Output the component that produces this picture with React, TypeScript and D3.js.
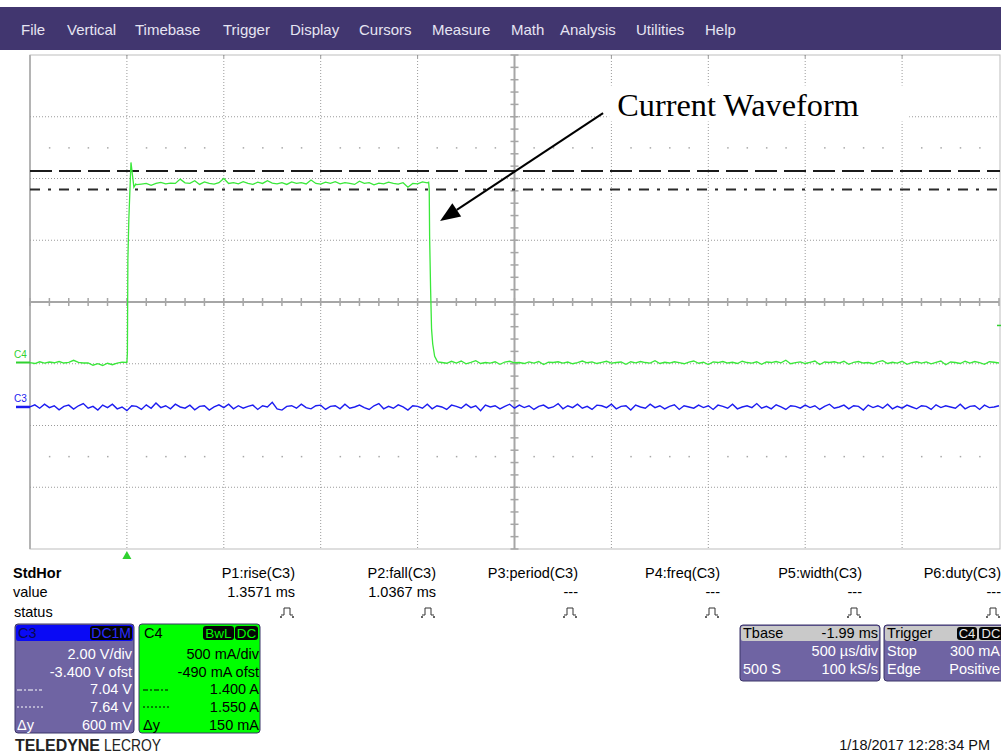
import * as d3 from "d3";
import React from "react";

// ---- screen / menu ----
const menuItems = ["File", "Vertical", "Timebase", "Trigger", "Display", "Cursors", "Measure", "Math", "Analysis", "Utilities", "Help"];
const menuX = [21, 67, 135, 223, 290, 359, 432, 511, 560, 636, 705];

// ---- timebase: 500 us/div, trigger at t = 0 ms ----
const timeDomain = [-0.5, 4.5]; // ms
const sampleStep = 0.025; // ms between plotted samples

// ---- C4: current probe, 500 mA/div, -490 mA offset (values in mA) ----
const c4Scale = { perDiv: 500, offset: -490 };
const c4PreStart = -0.5;
const c4Pre = [0, -8, 6, -5, 4, -2, 8, -4, 2, 18, 2, -4, -3, -22, -10, -24, -6, -18, -5, 3];
const c4Rise: [number, number][] = [[0.0, 0], [0.0026, 80], [0.005, 830], [0.01, 1160], [0.021, 1620], [0.036, 1420], [0.046, 1445]];
const c4HighStart = 0.05;
const c4High = [
  1440, 1445, 1450, 1435, 1450, 1458, 1446, 1452, 1450, 1485, 1455, 1450, 1472, 1442, 1462, 1450, 1444, 1456, 1490, 1450,
  1456, 1446, 1464, 1450, 1442, 1460, 1450, 1472, 1452, 1446, 1456, 1442, 1462, 1450, 1456, 1446, 1478, 1450, 1444, 1460,
  1450, 1464, 1446, 1456, 1450, 1442, 1468, 1450, 1456, 1438, 1452, 1446, 1460, 1450, 1444, 1456, 1420, 1450, 1446, 1462, 1455,
];
const c4Fall: [number, number][] = [[1.557, 1460], [1.56, 1400], [1.562, 1020], [1.567, 600], [1.572, 270], [1.578, 150], [1.588, 50], [1.603, 5]];
const c4PostStart = 1.625;
const c4Post = [
  0, -6, 10, -4, 12, -10, 2, 15, -8, 0, -5, 6, -14, 4, 10, -2, 0, -8, 5, -4,
  8, -16, 2, 0, 6, -5, 4, -10, 0, 12, -2, 5, -8, 2, 10, -5, 0, 4, -14, 6,
  -2, 8, 0, -5, 15, -8, 2, -4, 6, 0, -10, 4, 12, -6, 2, -16, 5, 0, 8, -4,
  2, -8, 10, 0, -5, 6, -14, 4, 0, 8, -2, 18, -10, 0, 5, -8, 2, 12, -16, 4,
  0, 6, -5, 10, -14, 2, 8, -4, 0, -10, 5, 15, -8, 2, -5, 10, -14, 0, 6, -4,
  5, -10, 2, 12, -18, 4, 0, -8, 10, -5, 8, 0, -14, 6, 2, -4,
];

// ---- C3: voltage, 2.00 V/div, -3.400 V offset (values in mV) ----
const c3Scale = { perDiv: 2000, offset: -3400 };
const c3Start = -0.5;
const c3Values = [
  0, 70, -40, 90, -20, 40, -90, 20, 60, -70, 40, 110, -40, 20, -100, 60, -20, 90, -60, 0,
  -120, 40, 20, -80, 70, -40, 130, -20, 40, -60, 90, 0, -40, 60, -90, 20, 40, -100, 0, 70,
  -20, 90, -60, 40, -40, 20, 60, -80, 40, 0, 150, -60, -100, 20, 40, -40, 90, -20, -60, 40,
  60, -80, 20, 40, -60, 90, -40, 0, 60, -20, -80, 40, 110, -60, 20, -40, 70, 0, -100, 40,
  20, -40, 90, -60, 40, 0, -80, 60, 20, -40, 90, -20, 40, -120, 60, 0, 40, -60, 20, 90,
  -40, 60, -20, 40, -80, 20, 60, -40, 0, 110, -60, 40, -20, 90, -40, 20, -80, 60, 40, -20,
  90, -60, 20, 40, -100, 60, 0, -40, 90, -20, 40, -60, 20, 70, -80, 40, 0, -40, 60, -20,
  40, -80, 60, 20, -40, 90, -60, 0, 40, -20, 110, -40, 20, -60, 70, 0, -80, 40, 20, -40,
  60, -20, 40, -80, 20, 90, -40, 0, 60, -60, 40, 20, -100, 60, -20, 40, -40, 90, -60, 20,
  -40, 60, 0, -60, 40, 20, -80, 70, -20, 40, 0, -40, 90, -60, 20, 40, -80, 60, -20, 0,
  40,
];

// ---- cursors (C4, mA) and trigger ----
const cursorDashed = 1550;
const cursorDashDot = 1400;
const triggerLevel = 300; // mA on C4
const triggerTime = 0;

// ---- measurements ----
const measHeaders = ["P1:rise(C3)", "P2:fall(C3)", "P3:period(C3)", "P4:freq(C3)", "P5:width(C3)", "P6:duty(C3)"];
const measValues = ["1.3571 ms", "1.0367 ms", "---", "---", "---", "---"];
const measRight = [295, 436, 578, 720, 862, 1001];

const c3Info = ["2.00 V/div", "-3.400 V ofst", "7.04 V", "7.64 V", "600 mV"];
const c4Info = ["500 mA/div", "-490 mA ofst", "1.400 A", "1.550 A", "150 mA"];

// annotation, placed in C4 data units (ms, mA)
const annotation = { label: "Current Waveform", textT: 2.53, textA: 2000, fromT: 2.457, fromA: 2020, toT: 1.616, toA: 1146 };

const grid = { left: 30, right: 999, top: 55, bottom: 549 };
const font = "Liberation Sans, Arial, sans-serif";

const seg = (start: number, vals: number[]): [number, number][] => vals.map((v, i) => [start + i * sampleStep, v]);

const App = () => {
  const x = d3.scaleLinear().domain(timeDomain).range([grid.left, grid.right]);
  const xDiv = d3.scaleLinear().domain([0, 10]).range([grid.left, grid.right]);
  const yDiv = d3.scaleLinear().domain([-4, 4]).range([grid.bottom, grid.top]);
  // channel scales: value -> divisions -> pixels
  const yC4 = (mA: number) => yDiv((mA + c4Scale.offset) / c4Scale.perDiv);
  const yC3 = (mV: number) => yDiv((mV + c3Scale.offset) / c3Scale.perDiv);

  const c4Data: [number, number][] = [...seg(c4PreStart, c4Pre), ...c4Rise, ...seg(c4HighStart, c4High), ...c4Fall, ...seg(c4PostStart, c4Post)];
  const c3Data = seg(c3Start, c3Values);

  const lineC4 = d3.line<[number, number]>().x((d) => x(d[0])).y((d) => yC4(d[1]));
  const lineC3 = d3.line<[number, number]>().x((d) => x(d[0])).y((d) => yC3(d[1]));

  const vDivs = d3.range(1, 10).filter((d) => d !== 5);
  const hDivs = d3.range(-3, 4).filter((d) => d !== 0);
  const minorX = d3.range(0, 10.001, 0.2).filter((d) => Math.abs(d - Math.round(d)) > 0.01);
  const minorY = d3.range(-4, 4.001, 0.2);
  const minorXAll = d3.range(0, 10.001, 0.2);

  // arrow geometry
  const ax1 = x(annotation.fromT), ay1 = yC4(annotation.fromA);
  const ax2 = x(annotation.toT), ay2 = yC4(annotation.toA);
  const len = Math.hypot(ax2 - ax1, ay2 - ay1);
  const ux = (ax2 - ax1) / len, uy = (ay2 - ay1) / len;
  const hl = 20, hw = 8;
  const bx = ax2 - ux * hl, by = ay2 - uy * hl;
  const head = `M${ax2},${ay2} L${bx - uy * hw},${by + ux * hw} L${bx + uy * hw},${by - ux * hw} Z`;
  const tx = x(annotation.textT), ty = yC4(annotation.textA);

  const statusGlyph = (r: number, y: number, key: number) => (
    <g key={key} stroke="#333" strokeWidth={1} fill="none">
      <path d={`M${r - 14},${y} h3 v-7 h6 v7 h3`} />
      <circle cx={r - 14} cy={y + 2} r={0.6} fill="#333" />
      <circle cx={r - 2} cy={y + 2} r={0.6} fill="#333" />
    </g>
  );

  const purple = "#6f64a3";
  const boxStroke = "#3b3468";

  return (
    <div style={{ position: "absolute", left: 0, top: 0 }}>
      <svg width={1001} height={754} style={{ display: "block", background: "#fff" }}>
        {/* menu bar */}
        <rect x={0} y={7} width={1001} height={43} fill="#41366f" />
        {menuItems.map((m, i) => (
          <text key={m} x={menuX[i]} y={35} fontFamily={font} fontSize={15} fill="#e6e4f2">{m}</text>
        ))}

        {/* grid frame */}
        <rect x={grid.left} y={grid.top} width={grid.right - grid.left + 1} height={grid.bottom - grid.top} fill="#fff" stroke="#bdbdbd" strokeWidth={1} />
        <line x1={grid.left} x2={grid.left} y1={grid.top} y2={grid.bottom} stroke="#b4b4b4" strokeWidth={2} />

        {/* dotted division lines */}
        {vDivs.map((d) => (
          <line key={"v" + d} x1={xDiv(d)} x2={xDiv(d)} y1={grid.top} y2={grid.bottom} stroke="#9a9a9a" strokeDasharray="1,2" />
        ))}
        {hDivs.map((d) => (
          <line key={"h" + d} x1={grid.left} x2={grid.right} y1={yDiv(d)} y2={yDiv(d)} stroke="#9a9a9a" strokeDasharray="1,2" />
        ))}
        {[2.5, -2.5].map((r) =>
          minorX.map((d) => <rect key={"m" + r + d} x={xDiv(d) - 0.5} y={yDiv(r) - 0.5} width={1.5} height={1.5} fill="#a8a8a8" />)
        )}
        {/* top edge ticks */}
        {vDivs.map((d) => (
          <line key={"t" + d} x1={xDiv(d)} x2={xDiv(d)} y1={grid.top} y2={grid.top + 3} stroke="#999" />
        ))}

        {/* centre crosshair with minor ticks */}
        <line x1={grid.left} x2={grid.right} y1={yDiv(0)} y2={yDiv(0)} stroke="#a6a6a6" strokeWidth={2} />
        <line x1={xDiv(5)} x2={xDiv(5)} y1={grid.top} y2={grid.bottom} stroke="#a6a6a6" strokeWidth={2} />
        {minorXAll.map((d) => (
          <line key={"cx" + d} x1={xDiv(d)} x2={xDiv(d)} y1={yDiv(0) - 4} y2={yDiv(0) + 4} stroke="#a6a6a6" strokeWidth={1.5} />
        ))}
        {minorY.map((d) => (
          <line key={"cy" + d} x1={xDiv(5) - 4} x2={xDiv(5) + 4} y1={yDiv(d)} y2={yDiv(d)} stroke="#a6a6a6" strokeWidth={1.5} />
        ))}

        {/* cursors */}
        <line x1={grid.left} x2={grid.right + 1} y1={yC4(cursorDashed)} y2={yC4(cursorDashed)} stroke="#1a1a1a" strokeWidth={2} strokeDasharray="22,7" />
        <line x1={grid.left} x2={grid.right + 1} y1={yC4(cursorDashDot)} y2={yC4(cursorDashDot)} stroke="#2a2a2a" strokeWidth={2} strokeDasharray="10,8,3,8" />

        {/* traces */}
        <path d={lineC3(c3Data) ?? ""} fill="none" stroke="#1c1cf0" strokeWidth={1.4} />
        <path d={lineC4(c4Data) ?? ""} fill="none" stroke="#3ae83a" strokeWidth={1.3} />

        {/* channel markers */}
        <text x={14} y={yC4(0) - 5} fontFamily={font} fontSize={10} fill="#2fd12f">C4</text>
        <line x1={16} x2={grid.left} y1={yC4(0)} y2={yC4(0)} stroke="#2fd12f" strokeWidth={2} />
        <text x={14} y={yC3(0) - 5} fontFamily={font} fontSize={10} fill="#1c1cf0">C3</text>
        <line x1={16} x2={grid.left} y1={yC3(0)} y2={yC3(0)} stroke="#1c1cf0" strokeWidth={2.5} />
        {/* trigger level & position */}
        <line x1={grid.right - 2} x2={1001} y1={yC4(triggerLevel)} y2={yC4(triggerLevel)} stroke="#2fd12f" strokeWidth={1.5} />
        <path d={`M${x(triggerTime)},${grid.bottom + 2} l-4.5,8 h9 Z`} fill="#2fd12f" />

        {/* annotation */}
        <rect x={tx - 8} y={ty - 30} width={300} height={36} fill="#fff" />
        <text x={tx} y={ty} fontFamily="Liberation Serif, Times New Roman, serif" fontSize={32.3} fill="#000">{annotation.label}</text>
        <line x1={ax1} y1={ay1} x2={bx} y2={by} stroke="#000" strokeWidth={2} />
        <path d={head} fill="#000" />

        {/* measurement table */}
        <text x={13} y={578} fontFamily={font} fontSize={14.5} fontWeight="bold" fill="#000">StdHor</text>
        <text x={13} y={597} fontFamily={font} fontSize={14.5} fill="#000">value</text>
        <text x={14} y={617} fontFamily={font} fontSize={14.5} fill="#000">status</text>
        {measHeaders.map((h, i) => (
          <g key={h}>
            <text x={measRight[i]} y={578} textAnchor="end" fontFamily={font} fontSize={14.5} fill="#000">{h}</text>
            <text x={measRight[i]} y={597} textAnchor="end" fontFamily={font} fontSize={14.5} fill="#000">{measValues[i]}</text>
            {statusGlyph(measRight[i], 615, i)}
          </g>
        ))}

        {/* C3 box */}
        <rect x={15} y={624} width={119} height={109} rx={3} fill={purple} stroke={boxStroke} />
        <rect x={16} y={625} width={117} height={16} rx={2} fill="#0a0af5" />
        <text x={18} y={638} fontFamily={font} fontSize={14.5} fill="#0a0a50">C3</text>
        <rect x={90} y={626} width={42} height={14} rx={3} fill="#050505" />
        <text x={131} y={638} textAnchor="end" fontFamily={font} fontSize={14} fill="#2b2bff">DC1M</text>
        {c3Info.map((t, i) => (
          <text key={t} x={132} y={659 + i * 17.7} textAnchor="end" fontFamily={font} fontSize={14.5} fill="#fff">{t}</text>
        ))}
        <line x1={17} x2={42} y1={690} y2={690} stroke="#fff" strokeDasharray="5,2,2,2" />
        <line x1={17} x2={44} y1={707} y2={707} stroke="#fff" strokeDasharray="2,2" />
        <text x={17} y={730} fontFamily={font} fontSize={14.5} fill="#fff">Δy</text>

        {/* C4 box */}
        <rect x={139} y={624} width={121} height={109} rx={3} fill="#00ff00" stroke={boxStroke} />
        <text x={144} y={638} fontFamily={font} fontSize={14.5} fill="#000">C4</text>
        <rect x={203} y={626} width={31} height={14} rx={3} fill="#050505" />
        <text x={218.5} y={638} textAnchor="middle" fontFamily={font} fontSize={13.5} fill="#00ff00">BwL</text>
        <rect x={235} y={626} width={23} height={14} rx={3} fill="#050505" />
        <text x={246.5} y={638} textAnchor="middle" fontFamily={font} fontSize={13.5} fill="#00ff00">DC</text>
        {c4Info.map((t, i) => (
          <text key={t} x={259} y={659 + i * 17.7} textAnchor="end" fontFamily={font} fontSize={14.5} fill="#000">{t}</text>
        ))}
        <line x1={143} x2={168} y1={690} y2={690} stroke="#000" strokeDasharray="5,2,2,2" />
        <line x1={143} x2={170} y1={707} y2={707} stroke="#000" strokeDasharray="2,2" />
        <text x={143} y={730} fontFamily={font} fontSize={14.5} fill="#000">Δy</text>

        {/* Tbase box */}
        <rect x={740} y={625} width={140} height={56} rx={3} fill={purple} stroke={boxStroke} />
        <rect x={741} y={626} width={138} height={15} rx={2} fill="#c9c9c9" />
        <text x={743} y={638} fontFamily={font} fontSize={14.5} fill="#000">Tbase</text>
        <text x={878} y={638} textAnchor="end" fontFamily={font} fontSize={14.5} fill="#000">-1.99 ms</text>
        <text x={878} y={656} textAnchor="end" fontFamily={font} fontSize={14.5} fill="#fff">500 µs/div</text>
        <text x={743} y={674} fontFamily={font} fontSize={14.5} fill="#fff">500 S</text>
        <text x={878} y={674} textAnchor="end" fontFamily={font} fontSize={14.5} fill="#fff">100 kS/s</text>

        {/* Trigger box */}
        <rect x={884} y={625} width={130} height={56} rx={3} fill={purple} stroke={boxStroke} />
        <rect x={885} y={626} width={128} height={15} rx={2} fill="#c9c9c9" />
        <text x={887} y={638} fontFamily={font} fontSize={14.5} fill="#000">Trigger</text>
        <rect x={957} y={627} width={20} height={13} rx={3} fill="#050505" />
        <text x={967} y={638} textAnchor="middle" fontFamily={font} fontSize={13} fill="#e8e8e8">C4</text>
        <rect x={979} y={627} width={24} height={13} rx={3} fill="#050505" />
        <text x={991} y={638} textAnchor="middle" fontFamily={font} fontSize={13} fill="#e8e8e8">DC</text>
        <text x={887} y={656} fontFamily={font} fontSize={14.5} fill="#fff">Stop</text>
        <text x={1000} y={656} textAnchor="end" fontFamily={font} fontSize={14.5} fill="#fff">300 mA</text>
        <text x={887} y={674} fontFamily={font} fontSize={14.5} fill="#fff">Edge</text>
        <text x={1000} y={674} textAnchor="end" fontFamily={font} fontSize={14.5} fill="#fff">Positive</text>

        {/* logo & timestamp */}
        <text x={15} y={751} fontFamily={font} fontSize={16} fontWeight="bold" fill="#222" textLength={85} lengthAdjust="spacingAndGlyphs">TELEDYNE</text>
        <text x={104} y={751} fontFamily={font} fontSize={16} fill="#222" textLength={57} lengthAdjust="spacingAndGlyphs">LECROY</text>
        <text x={990} y={750} textAnchor="end" fontFamily={font} fontSize={14.5} fill="#111">1/18/2017 12:28:34 PM</text>
      </svg>
    </div>
  );
};

export default App;
